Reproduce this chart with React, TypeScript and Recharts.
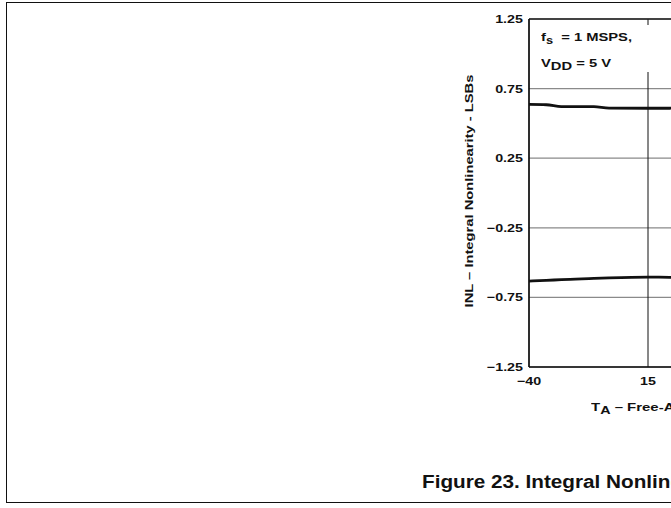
import React from "react";
import {
  LineChart,
  Line,
  XAxis,
  YAxis,
  CartesianGrid,
  ReferenceLine,
} from "recharts";

// temperature points (°C)
const temps = [-40, -32, -25, -10, -3, 15, 25, 40, 55, 70, 85, 100, 125];
const inlMax = [0.636, 0.634, 0.621, 0.62, 0.61, 0.609, 0.609, 0.61, 0.61, 0.612, 0.613, 0.615, 0.62];
const inlMin = [-0.633, -0.628, -0.622, -0.614, -0.61, -0.604, -0.606, -0.606, -0.607, -0.608, -0.61, -0.612, -0.615];

const xTicks = [-40, 15, 70, 125];
const yTicks = [-1.25, -0.75, -0.25, 0.25, 0.75, 1.25];

const data = temps.map((t, i) => ({ t, max: inlMax[i], min: inlMin[i] }));

const FONT = "Arial, 'Liberation Sans', Helvetica, sans-serif";
const WIDE = 1.3; // the figure's lettering is wider than Arial
const fmt = (v: number) => (v < 0 ? "\u2212" + Math.abs(v) : String(v));

function WideTick(props: any) {
  const { x, y, payload, textAnchor, axis } = props;
  return (
    <text
      transform={`translate(${x},${y}) scale(${WIDE},1)`}
      textAnchor={textAnchor}
      dy={axis === "x" ? "0.71em" : "0.355em"}
      fontSize={11}
      fontWeight={700}
      fill="#111"
      fontFamily={FONT}
    >
      {fmt(payload.value)}
    </text>
  );
}

export default function App() {
  return (
    <div
      style={{
        position: "absolute",
        left: 0,
        top: 0,
        width: 671,
        height: 508,
        overflow: "hidden",
        background: "#fff",
        fontFamily: FONT,
        fontWeight: 700,
        color: "#111",
      }}
    >
      <LineChart
        width={1000}
        height={508}
        data={data}
        margin={{ top: 19, right: 114, left: 0, bottom: 111 }}
      >
        <CartesianGrid vertical={false} stroke="#8a8a8a" strokeWidth={1.3} />
        <CartesianGrid horizontal={false} stroke="#111" strokeWidth={1} />
        <XAxis
          dataKey="t"
          type="number"
          domain={[-40, 125]}
          ticks={xTicks}
          tickSize={0}
          tickMargin={10}
          height={30}
          axisLine={{ stroke: "#111", strokeWidth: 1.5 }}
          tick={<WideTick axis="x" />}
        />
        <YAxis
          type="number"
          domain={[-1.25, 1.25]}
          ticks={yTicks}
          tickSize={0}
          tickMargin={6}
          width={529}
          axisLine={{ stroke: "#111", strokeWidth: 1.5 }}
          tick={<WideTick axis="y" />}
        />
        <ReferenceLine y={1.25} stroke="#222" strokeWidth={1.3} />
        <Line
          type="monotone"
          dataKey="max"
          stroke="#111"
          strokeWidth={2.8}
          dot={false}
          isAnimationActive={false}
        />
        <Line
          type="monotone"
          dataKey="min"
          stroke="#111"
          strokeWidth={2.8}
          dot={false}
          isAnimationActive={false}
        />
      </LineChart>

      {/* annotation box */}
      <div
        style={{
          position: "absolute",
          left: 537,
          top: 25,
          width: 125,
          height: 47,
          background: "#fff",
        }}
      />
      <div
        style={{
          position: "absolute",
          left: 541,
          top: 26,
          fontSize: 11.5,
          lineHeight: "23px",
          whiteSpace: "nowrap",
          transform: "scaleX(1.28)",
          transformOrigin: "left center",
        }}
      >
        <div>
          f<sub style={{ fontSize: 10 }}>s</sub>&nbsp; = 1 MSPS,
        </div>
        <div>
          V<sub style={{ fontSize: 11.5 }}>DD</sub> = 5 V
        </div>
      </div>

      {/* y-axis title */}
      <div
        style={{
          position: "absolute",
          left: 469,
          top: 191,
          transform: "translate(-50%, -50%) rotate(-90deg) scaleX(1.28)",
          fontSize: 11.5,
          whiteSpace: "nowrap",
        }}
      >
        INL – Integral Nonlinearity - LSBs
      </div>

      {/* x-axis title */}
      <div
        style={{
          position: "absolute",
          left: 591,
          top: 401,
          fontSize: 11.5,
          whiteSpace: "nowrap",
          transform: "scaleX(1.3)",
          transformOrigin: "left center",
        }}
      >
        T<sub style={{ fontSize: 11 }}>A</sub> – Free-Air Temperature – °C
      </div>

      {/* caption */}
      <div
        style={{
          position: "absolute",
          left: 422,
          top: 472,
          fontSize: 18,
          whiteSpace: "nowrap",
          transform: "scaleX(1.15)",
          transformOrigin: "left center",
        }}
      >
        Figure 23. Integral Nonlinearity vs Free-Air Temperature
      </div>

      {/* outer frame */}
      <div
        style={{
          position: "absolute",
          left: 6,
          top: 2,
          width: 1200,
          height: 501,
          border: "1.2px solid #111",
          boxSizing: "border-box",
          pointerEvents: "none",
        }}
      />
    </div>
  );
}
